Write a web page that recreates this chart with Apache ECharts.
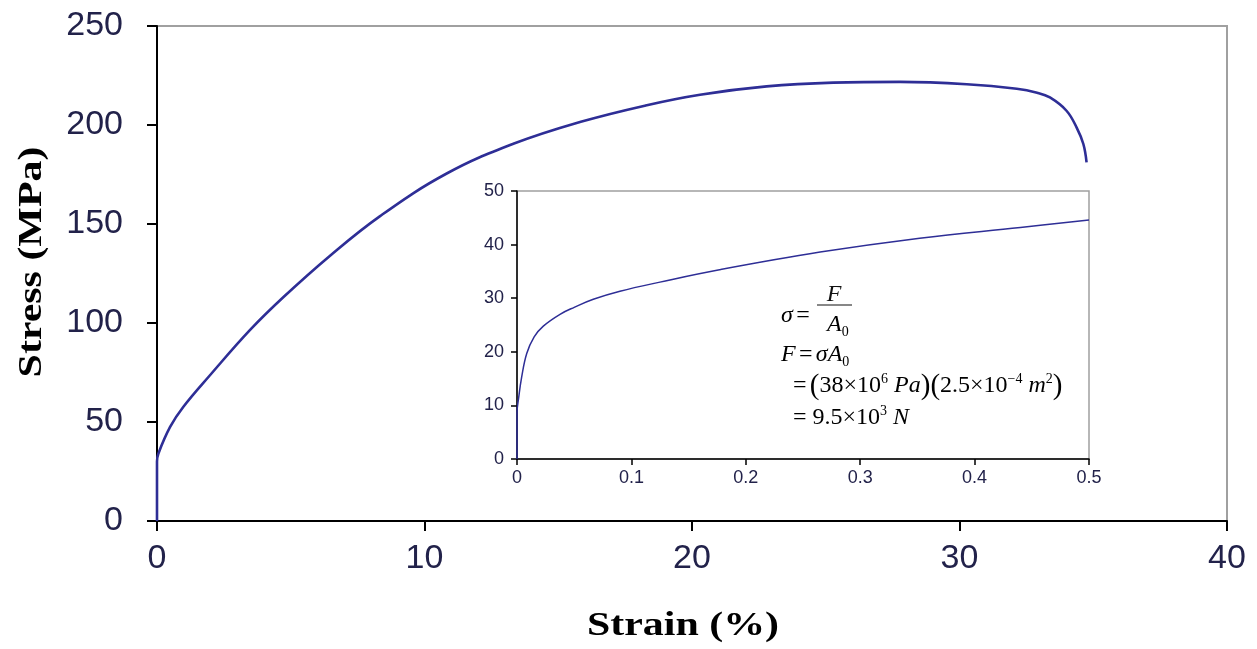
<!DOCTYPE html>
<html>
<head>
<meta charset="utf-8">
<script src="https://cdn.jsdelivr.net/npm/echarts@6/dist/echarts.min.js"></script>
<style>
  html, body { margin: 0; padding: 0; background: #fff; }
  #chart { width: 1257px; height: 649px; }
</style>
</head>
<body>
<div id="chart"></div>
<script>
// main curve: strain (%) vs stress (MPa)
var mainStrain = [0, 0, 0.05, 0.49, 0.98, 1.98, 3.48, 4.72, 6.47, 8.34, 10.83, 13.32, 15.81, 18.31, 20.3, 22.79, 25.28, 27.78, 30.27, 32.14, 32.9, 33.38, 34.0, 34.38, 34.63, 34.75]
var mainStress = [0, 30, 34, 47.5, 57.6, 73.6, 96.5, 113, 134, 154, 175.5, 190.5, 201.5, 210, 215.3, 219.5, 221.4, 221.8, 220.6, 218.3, 216.3, 213.9, 207.2, 198.7, 190.4, 181.1]

// inset: early part of the curve
var insetStrain = [0, 0, 0.0015, 0.004, 0.0085, 0.015, 0.023, 0.0376, 0.05, 0.0667, 0.09, 0.125, 0.177, 0.265, 0.352, 0.44, 0.5]
var insetStress = [0, 8.6, 11.5, 15.2, 19.7, 22.8, 24.8, 27.0, 28.3, 29.8, 31.3, 33.0, 35.3, 38.6, 41.2, 43.2, 44.6]

var mainXTicks = [0, 40, 10]   // min, max, step
var mainYTicks = [0, 250, 50]
var insetXTicks = [0, 0.5, 0.1]
var insetYTicks = [0, 50, 10]

function pairs(xs, ys) {
  return xs.map(function (x, i) { return [x, ys[i]] })
}

var labelColor = '#22224a'
var lineColor = '#2e2e96'
var serif = '"Liberation Serif", "Times New Roman", serif'
var sans = '"Liberation Sans", Arial, sans-serif'

var eqRich = {
  n: { fontFamily: serif, fontSize: 24, lineHeight: 28, color: '#111' },
  i: { fontFamily: serif, fontSize: 24, lineHeight: 28, color: '#111', fontStyle: 'italic' },
  p: { fontFamily: serif, fontSize: 29, lineHeight: 28, color: '#111' },
  sup: { fontFamily: serif, fontSize: 14, lineHeight: 14, color: '#111', verticalAlign: 'top' },
  sub: { fontFamily: serif, fontSize: 14, lineHeight: 13, color: '#111', verticalAlign: 'bottom' }
}

var chart = echarts.init(document.getElementById('chart'))

var option = {
  animation: false,
  backgroundColor: '#fff',
  grid: [
    { left: 157, top: 26, right: 30, bottom: 128, show: true, borderColor: '#a0a0a0', borderWidth: 2, backgroundColor: 'transparent' },
    { left: 517, top: 191, right: 168, bottom: 190, show: true, borderColor: '#a0a0a0', borderWidth: 1.5, backgroundColor: '#fff' }
  ],
  xAxis: [
    {
      type: 'value', gridIndex: 0,
      min: mainXTicks[0], max: mainXTicks[1], interval: mainXTicks[2],
      axisLine: { show: true, lineStyle: { color: '#000', width: 2 } },
      axisTick: { show: true, length: 10, lineStyle: { color: '#000', width: 2 } },
      axisLabel: { margin: 21, fontFamily: sans, fontSize: 34, color: labelColor },
      splitLine: { show: false }
    },
    {
      type: 'value', gridIndex: 1,
      min: insetXTicks[0], max: insetXTicks[1], interval: insetXTicks[2],
      axisLine: { show: true, lineStyle: { color: '#000', width: 1.5 } },
      axisTick: { show: true, length: 6, lineStyle: { color: '#000', width: 1.5 } },
      axisLabel: { margin: 10, fontFamily: sans, fontSize: 18, color: labelColor },
      splitLine: { show: false }
    }
  ],
  yAxis: [
    {
      type: 'value', gridIndex: 0,
      min: mainYTicks[0], max: mainYTicks[1], interval: mainYTicks[2],
      axisLine: { show: true, lineStyle: { color: '#000', width: 2 } },
      axisTick: { show: true, length: 10, lineStyle: { color: '#000', width: 2 } },
      axisLabel: { margin: 34, fontFamily: sans, fontSize: 34, color: labelColor },
      splitLine: { show: false }
    },
    {
      type: 'value', gridIndex: 1,
      min: insetYTicks[0], max: insetYTicks[1], interval: insetYTicks[2],
      axisLine: { show: true, lineStyle: { color: '#000', width: 1.5 } },
      axisTick: { show: true, length: 6, lineStyle: { color: '#000', width: 1.5 } },
      axisLabel: { margin: 13, fontFamily: sans, fontSize: 18, color: labelColor },
      splitLine: { show: false }
    }
  ],
  series: [
    {
      type: 'line', xAxisIndex: 0, yAxisIndex: 0,
      data: pairs(mainStrain, mainStress),
      smooth: 0.4, showSymbol: false,
      lineStyle: { color: lineColor, width: 2.6 }
    },
    {
      type: 'line', xAxisIndex: 1, yAxisIndex: 1,
      data: pairs(insetStrain, insetStress),
      smooth: 0.4, showSymbol: false,
      lineStyle: { color: lineColor, width: 1.5 }
    }
  ],
  graphic: [
    // axis titles (stretched like the original)
    { type: 'text', x: 32, y: 262, rotation: Math.PI / 2, scaleX: 1.27, z: 100,
      style: { text: 'Stress (MPa)', font: 'bold 33px ' + serif, fill: '#000', align: 'center', verticalAlign: 'middle' } },
    { type: 'text', x: 683, y: 626, scaleX: 1.27, z: 100,
      style: { text: 'Strain (%)', font: 'bold 33px ' + serif, fill: '#000', align: 'center', verticalAlign: 'middle' } },
    // formula inside the inset
    { type: 'text', x: 781, y: 302, z: 100, style: { text: '{i|σ} {n|=}', rich: eqRich } },
    { type: 'text', x: 834, y: 295, z: 100, style: { text: 'F', font: 'italic 24px ' + serif, fill: '#111', align: 'center', verticalAlign: 'middle' } },
    { type: 'text', x: 827, y: 311, z: 100, style: { text: '{i|A}{sub|0}', rich: eqRich } },
    { type: 'line', z: 100, shape: { x1: 817, y1: 305, x2: 852, y2: 305 }, style: { stroke: '#111', lineWidth: 1.2 } },
    { type: 'text', x: 781, y: 341, z: 100, style: { text: '{i|F} {n|=} {i|σA}{sub|0}', rich: eqRich } },
    { type: 'text', x: 793, y: 372, z: 100, style: { text: '{n|=} {p|(}{n|38×10}{sup|6}{i| Pa}{p|)(}{n|2.5×10}{sup|−4}{i| m}{sup|2}{p|)}', rich: eqRich } },
    { type: 'text', x: 793, y: 404, z: 100, style: { text: '{n|= 9.5×10}{sup|3}{i| N}', rich: eqRich } }
  ]
}

chart.setOption(option)
</script>
</body>
</html>
